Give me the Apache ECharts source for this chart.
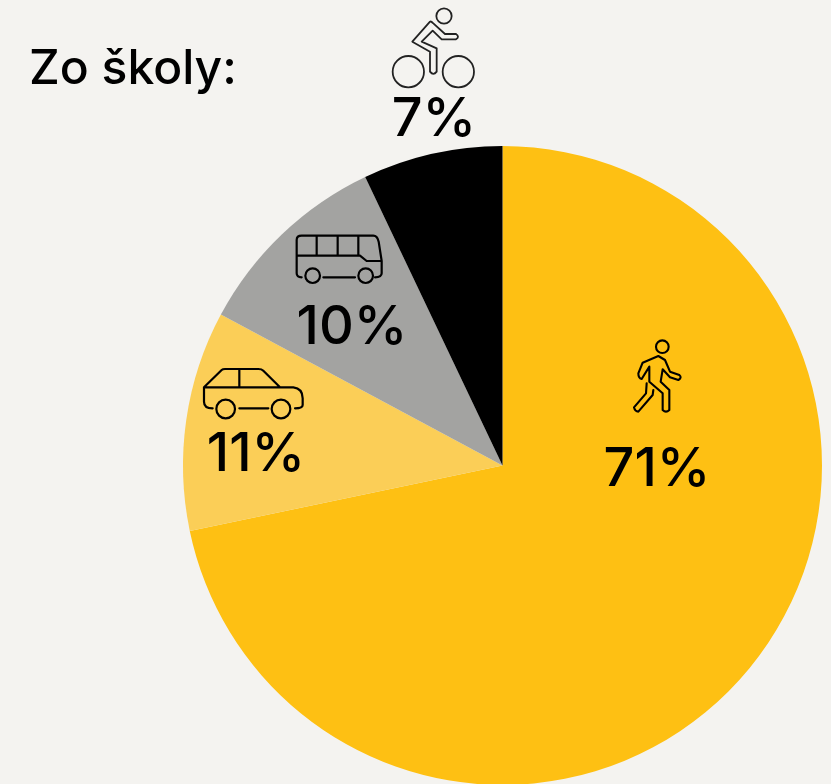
<!DOCTYPE html>
<html><head><meta charset="utf-8">
<style>html,body{margin:0;padding:0;background:#f4f3f0;overflow:hidden}#c{width:831px;height:784px}</style>
<script src="https://cdn.jsdelivr.net/npm/echarts@6/dist/echarts.min.js"></script></head>
<body><div id="c"></div>
<script>
const title = "Zo školy:";
const categories = ["Pešo", "Autom", "Autobusom", "Bicyklom"];
const values = [71, 11, 10, 7];
const colors = ["#fec013", "#fbce57", "#a3a3a1", "#000000"];
const labelCentres = [[657,470],[256,455],[352,328],[434,120]];

const circle = (cx,cy,r)=>`M${cx-r} ${cy}a${r} ${r} 0 1 0 ${2*r} 0a${r} ${r} 0 1 0 ${-2*r} 0z `;
// Icon outlines, drawn in 3x crop coordinates and scaled back by one third.
const S = (x,y,path,color,w)=>({type:'path',x:x,y:y,scaleX:1/3,scaleY:1/3,shape:{pathData:path},
  style:{fill:'none',stroke:color,lineWidth:w*3,lineCap:'round',lineJoin:'round'},silent:true});
const bike = circle(192,48,23)+circle(85,215,47)+circle(235,215,47)+
  "M150 65L97 125L150 155V215Q160 228 170 215V145L125 125L158 92L185 118H228Q240 110 228 102H195L160 70Q153 63 150 65Z";
const car = circle(107,552,28)+circle(273,552,28)+
  "M42 487L95 435Q98 432 105 432H205Q215 432 220 437L270 487H310Q338 490 338 520V540Q338 550 315 550 M42 487V530Q42 550 68 550 M42 487H270 M148 435V487 M148 550H235";
const bus = circle(368,152,22)+circle(527,152,22)+
  "M320 45Q320 32 335 32H550Q562 32 566 50L575 108V145Q575 157 555 157 M320 45V145Q320 157 335 157 M400 157H495 M320 92H510L530 108H575 M380 32V92 M443 32V92 M505 32V92";
const walk = circle(127,50,19)+
  "M115 78L135 90L150 125L178 135Q187 143 175 150L150 142L128 118L122 155L148 180V240Q138 250 128 240V190L88 155V110L65 147Q55 145 55 130L68 98Z M80 160L78 190L42 232Q45 245 55 245L98 195L100 180";
const chart = echarts.init(document.getElementById('c'));
chart.setOption({
  backgroundColor:'#f4f3f0',
  animation:false,
  title:{text:title,left:24,top:41,textStyle:{fontFamily:'Inter',fontSize:48,fontWeight:500,color:'#000'}},
  series:[{
    type:'pie',center:[502.5,465.5],radius:[0,319.5],startAngle:90,clockwise:true,
    data:categories.map((c,i)=>({name:c,value:values[i],itemStyle:{color:colors[i]}})),
    label:{show:true,position:'inside',formatter:'{c}%',fontFamily:'Inter',fontSize:54,fontWeight:500,color:'#000',align:'center',verticalAlign:'middle'},
    labelLine:{show:false},
    labelLayout:p=>({x:labelCentres[p.dataIndex][0],y:labelCentres[p.dataIndex][1],align:'center',verticalAlign:'middle'}),
    silent:true
  },{
    type:'custom',coordinateSystem:'none',silent:true,data:[0],z:10,
    renderItem:()=>({type:'group',children:[
      S(380,0,bike,'#222',1.8),
      S(190,225,car,'#000',2.2),
      S(190,225,bus,'#000',2.2),
      S(620,330,walk,'#000',2.1)
    ]})
  }]
});
</script></body></html>
